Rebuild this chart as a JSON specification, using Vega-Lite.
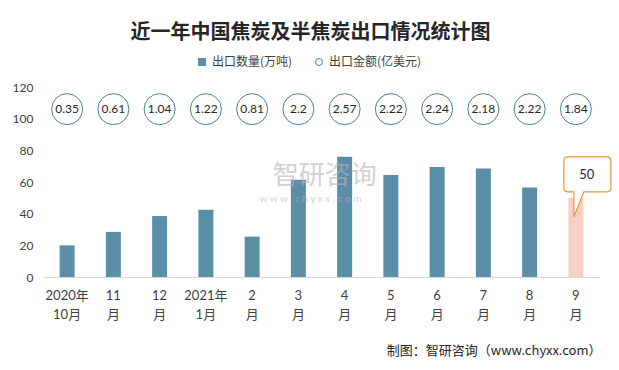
{
  "$schema": "https://vega.github.io/schema/vega-lite/v6.json",
  "width": 555,
  "height": 190,
  "autosize": {"type": "none"},
  "padding": {"left": 44, "top": 87, "right": 20, "bottom": 93},
  "background": "white",
  "title": {
    "text": "近一年中国焦炭及半焦炭出口情况统计图",
    "font": "Noto Sans CJK SC",
    "fontSize": 20,
    "fontWeight": "bold",
    "color": "#262626",
    "anchor": "middle",
    "frame": "group",
    "dx": -11,
    "offset": 13
  },
  "data": {
    "values": [
      {"m": "2020年|10月", "q": 20, "v": 0.35},
      {"m": "11|月", "q": 28.5, "v": 0.61},
      {"m": "12|月", "q": 38.5, "v": 1.04},
      {"m": "2021年|1月", "q": 42.5, "v": 1.22},
      {"m": "2|月", "q": 25.5, "v": 0.81},
      {"m": "3|月", "q": 61.5, "v": 2.2},
      {"m": "4|月", "q": 76, "v": 2.57},
      {"m": "5|月", "q": 64.5, "v": 2.22},
      {"m": "6|月", "q": 69.5, "v": 2.24},
      {"m": "7|月", "q": 68.5, "v": 2.18},
      {"m": "8|月", "q": 56.5, "v": 2.22},
      {"m": "9|月", "q": 50, "v": 1.84}
    ]
  },
  "encoding": {
    "x": {
      "field": "m",
      "type": "nominal",
      "sort": null,
      "scale": {"type": "band", "paddingInner": 0, "paddingOuter": 0},
      "axis": {
        "labelExpr": "split(datum.value, '|')",
        "labelAngle": 0,
        "labelFont": "Lato, Noto Sans CJK SC",
        "labelFontSize": 13,
        "labelColor": "#404040",
        "labelLineHeight": 19,
        "labelPadding": 12,
        "labelBaseline": "top",
        "ticks": false,
        "domainColor": "#d9d9d9",
        "domainWidth": 1,
        "title": "制图：智研咨询（www.chyxx.com）",
        "titleFont": "Noto Sans CJK SC",
        "titleFontSize": 13,
        "titleFontWeight": "normal",
        "titleColor": "#262626",
        "titleAlign": "right",
        "titleBaseline": "middle",
        "titleX": 557,
        "titleY": 73
      }
    },
    "y": {
      "type": "quantitative",
      "scale": {"domain": [0, 120], "nice": false},
      "axis": {
        "values": [0, 20, 40, 60, 80, 100, 120],
        "labelOverlap": false,
        "grid": false,
        "domain": false,
        "ticks": false,
        "tickSize": 0,
        "tickOpacity": 0,
        "labelFont": "Lato, Noto Sans CJK SC",
        "labelFontSize": 12,
        "labelColor": "#404040",
        "labelPadding": 11,
        "title": null
      }
    }
  },
  "layer": [
    {
      "mark": {"type": "bar", "width": 15},
      "encoding": {
        "y": {"field": "q"},
        "fill": {
          "condition": {"test": "datum.m === '9|月'", "value": "#f8cfc3"},
          "datum": "出口数量(万吨)",
          "scale": {"domain": ["出口数量(万吨)"], "range": ["#5b8fa8"]},
          "legend": {
            "title": null,
            "orient": "none",
            "direction": "horizontal",
            "legendX": 152,
            "legendY": -31,
            "labelFont": "Noto Sans CJK SC",
            "labelFontSize": 12,
            "labelColor": "#404040",
            "labelOffset": 4,
            "symbolType": "square",
            "symbolSize": 64
          }
        }
      }
    },
    {
      "mark": {"type": "point", "filled": false, "fill": "white", "fillOpacity": 1, "opacity": 1, "size": 961, "strokeWidth": 1},
      "encoding": {
        "y": {"datum": 106},
        "stroke": {
          "datum": "出口金额(亿美元)",
          "scale": {"domain": ["出口金额(亿美元)"], "range": ["#4a80a0"]},
          "legend": {
            "title": null,
            "orient": "none",
            "direction": "horizontal",
            "legendX": 269,
            "legendY": -31,
            "labelFont": "Noto Sans CJK SC",
            "labelFontSize": 12,
            "labelColor": "#404040",
            "labelOffset": 4,
            "symbolType": "circle",
            "symbolSize": 49,
            "symbolStrokeWidth": 1,
            "symbolFillColor": "white",
            "symbolStrokeColor": "#6f9fba"
          }
        }
      }
    },
    {
      "mark": {"type": "text", "font": "Lato, Noto Sans CJK SC", "fontSize": 12, "color": "#262626"},
      "encoding": {
        "y": {"datum": 106},
        "text": {"field": "v", "type": "quantitative"}
      }
    },
    {
      "transform": [{"filter": "datum.m === '9|月'"}],
      "mark": {
        "type": "point",
        "shape": "M -8 -41 L 31 -41 Q 35 -41 35 -37 L 35 -10 Q 35 -6 31 -6 L 8 -6 L -2 19 L -2 -6 L -8 -6 Q -12 -6 -12 -10 L -12 -37 Q -12 -41 -8 -41 Z",
        "size": 4,
        "filled": false,
        "fill": "white",
        "fillOpacity": 1,
        "opacity": 1,
        "stroke": "#e8963a",
        "strokeWidth": 1.2
      },
      "encoding": {
        "y": {"field": "q"}
      }
    },
    {
      "transform": [{"filter": "datum.m === '9|月'"}],
      "mark": {"type": "text", "font": "Lato, Noto Sans CJK SC", "fontSize": 13, "color": "#262626", "dx": 11, "dy": -23},
      "encoding": {
        "y": {"field": "q"},
        "text": {"field": "q", "type": "quantitative"}
      }
    },
    {
      "data": {"values": [{"t": "智研咨询", "u": "w w w . c h y x x . c o m"}]},
      "layer": [
        {
          "mark": {"type": "text", "font": "Noto Sans CJK SC", "fontSize": 26, "color": "#b4b4b4", "opacity": 0.6, "dx": -20},
          "encoding": {"x": {"datum": "4|月"}, "y": {"datum": 64}, "text": {"field": "t"}}
        },
        {
          "mark": {"type": "text", "font": "Lato", "fontSize": 10, "color": "#b4b4b4", "opacity": 0.6, "dx": -34},
          "encoding": {"x": {"datum": "4|月"}, "y": {"datum": 49}, "text": {"field": "u"}}
        }
      ]
    }
  ],
  "config": {
    "view": {"stroke": null},
    "axisY": {
      "labelOverlap": false,
      "ticks": false,
      "tickSize": 0,
      "domain": false,
      "grid": false,
      "labelPadding": 11,
      "title": null
    }
  }
}
